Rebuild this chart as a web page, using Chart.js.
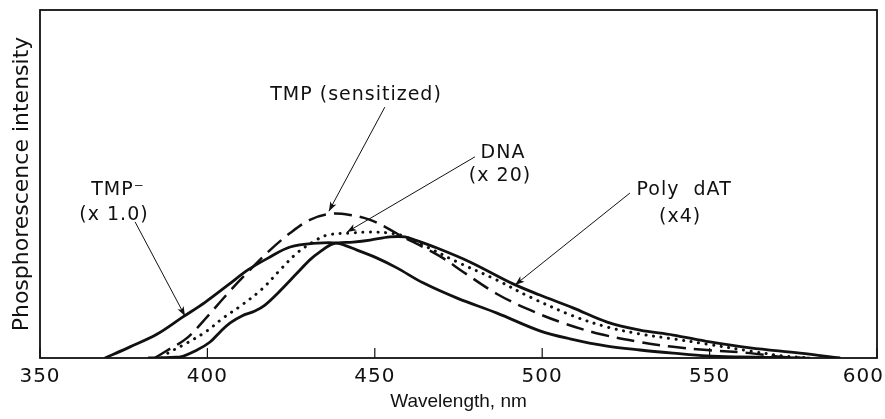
<!DOCTYPE html>
<html>
<head>
<meta charset="utf-8">
<script src="https://cdn.jsdelivr.net/npm/chart.js@4.4.0/dist/chart.umd.min.js"></script>
<style>
    html, body { margin: 0; padding: 0; background: #fff; }
    #wrap { width: 885px; height: 419px; }
</style>
</head>
<body>
<div id="wrap"><canvas id="chart" width="885" height="419"></canvas></div>
<script>
// Wavelength (nm) and phosphorescence intensity (arbitrary units, frame height = 100)
const tmpMinusNm = [369.4, 376.9, 384.9, 392.7, 399.3, 406.2, 412.1, 418.1, 424.7, 432.7, 438.7, 444.7, 450.7,
    456.6, 464.4, 474.6, 486.5, 499.3, 508.3, 519.4, 529.2, 539.1, 549.2, 559.1, 577.0];
const tmpMinusVal = [0, 3.2, 6.8, 11.8, 16.0, 21.0, 25.3, 28.7, 31.9, 33.0, 33.0, 31.0, 28.7,
    25.9, 21.6, 17.2, 12.9, 7.8, 5.5, 3.4, 2.3, 1.4, 0.6, 0.3, 0];

const tmpSensNm = [384.3, 388.2, 391.8, 394.8, 399.9, 406.2, 411.8, 418.7, 424.7, 430.6, 436.6, 442.6, 448.6, 453.6,
    458.4, 464.4, 470.4, 476.3, 486.5, 496.3, 506.1, 517.2, 529.2, 539.1, 549.2, 562.1, 571.9, 580.0];
const tmpSensVal = [0, 2.3, 4.3, 6.5, 11.8, 18.7, 24.4, 31.0, 35.9, 39.7, 41.4, 41.1, 39.7, 37.4,
    34.8, 31.9, 28.7, 24.8, 18.4, 13.8, 10.1, 6.9, 4.6, 3.2, 2.3, 1.4, 0.3, 0];

const dnaNm = [386.4, 388.2, 393.9, 399.9, 404.7, 409.7, 416.3, 421.7, 426.8, 431.5, 435.7, 442.6, 448.6, 454.5,
    458.4, 465.6, 474.6, 486.5, 496.4, 509.2, 519.4, 529.2, 539.1, 549.2, 562.1, 571.9, 580.0];
const dnaVal = [0, 1.4, 4.3, 7.8, 11.5, 14.8, 19.8, 25.3, 30.2, 33.3, 35.3, 35.9, 36.2, 35.9,
    35.1, 31.9, 27.6, 22.4, 17.5, 12.1, 8.9, 6.9, 5.5, 4.0, 2.0, 0.6, 0];

const polyNm = [382.3, 391.8, 396.9, 400.8, 403.8, 406.8, 410.3, 414.2, 417.2, 420.8, 426.8, 430.6, 433.6, 437.5,
    443.5, 448.6, 454.5, 459.0, 462.0, 468.6, 478.4, 491.3, 499.3, 509.2, 519.4, 529.2, 539.1, 550.1, 562.1, 577.0, 589.0];
const polyVal = [0, 0.3, 2.3, 4.6, 7.5, 10.1, 12.1, 13.5, 15.2, 18.4, 24.4, 28.2, 30.5, 32.8,
    33.3, 33.9, 34.8, 34.8, 33.9, 31.6, 27.6, 21.3, 18.1, 14.4, 10.3, 8.0, 6.6, 4.6, 2.9, 1.4, 0];

const xTicks = [350, 400, 450, 500, 550, 600];

// labels and arrows, placed in data coordinates
const labels = [
    { text: 'TMP (sensitized)', nm: 444.4, val: 75.6 },
    { text: 'DNA', nm: 488.3, val: 58.9 },
    { text: '(x 20)', nm: 487.4, val: 52.3 },
    { text: 'TMP\u207B', nm: 373.3, val: 48.3 },
    { text: '(x 1.0)', nm: 372.1, val: 41.1 },
    { text: 'Poly  dAT', nm: 542.4, val: 48.3 },
    { text: '(x4)', nm: 541.2, val: 40.5 }
];
const arrows = [
    { from: [378.4, 39.1], to: [393.3, 12.1] },
    { from: [453.0, 72.1], to: [436.3, 42.2] },
    { from: [479.9, 57.8], to: [441.7, 36.2] },
    { from: [526.2, 47.4], to: [491.9, 21.0] }
];

const ink = '#111';

function toPoints(xs, ys) {
    return xs.map((x, i) => ({ x: x, y: ys[i] }));
}

function makeSeries(label, xs, ys, extra) {
    return Object.assign({
        label: label,
        data: toPoints(xs, ys),
        borderColor: ink,
        borderWidth: 2.8,
        pointRadius: 0,
        fill: false,
        tension: 0.35
    }, extra || {});
}

// Frame, inward ticks, tick labels, annotation text and arrows
const decorPlugin = {
    id: 'decor',
    afterDraw(chart) {
        const ctx = chart.ctx;
        const area = chart.chartArea;
        const xs = chart.scales.x;
        const ys = chart.scales.y;

        ctx.save();
        ctx.strokeStyle = ink;
        ctx.lineWidth = 1.8;
        ctx.strokeRect(area.left, area.top, area.right - area.left, area.bottom - area.top);

        // tick marks pointing into the plot
        ctx.lineWidth = 1.2;
        xTicks.forEach(v => {
            const px = xs.getPixelForValue(v);
            ctx.beginPath();
            ctx.moveTo(px, area.bottom);
            ctx.lineTo(px, area.bottom - 10);
            ctx.stroke();
        });

        ctx.fillStyle = ink;
        ctx.letterSpacing = '1px';
        ctx.font = '20px "DejaVu Sans"';
        ctx.textBaseline = 'top';
        ctx.textAlign = 'center';
        xTicks.forEach(v => {
            let px = xs.getPixelForValue(v);
            const w = ctx.measureText(String(v)).width;
            if (px + w / 2 > chart.width - 1) px = chart.width - 1 - w / 2;
            ctx.fillText(String(v), px, area.bottom + 9);
        });

        ctx.font = '19px "DejaVu Sans"';
        ctx.textBaseline = 'middle';
        labels.forEach(l => {
            ctx.fillText(l.text, xs.getPixelForValue(l.nm), ys.getPixelForValue(l.val));
        });

        ctx.lineWidth = 1;
        arrows.forEach(a => {
            const x0 = xs.getPixelForValue(a.from[0]), y0 = ys.getPixelForValue(a.from[1]);
            const x1 = xs.getPixelForValue(a.to[0]), y1 = ys.getPixelForValue(a.to[1]);
            ctx.beginPath();
            ctx.moveTo(x0, y0);
            ctx.lineTo(x1, y1);
            ctx.stroke();
            const ang = Math.atan2(y1 - y0, x1 - x0);
            const len = 10, spread = 0.35;
            ctx.beginPath();
            ctx.moveTo(x1, y1);
            ctx.lineTo(x1 - len * Math.cos(ang - spread), y1 - len * Math.sin(ang - spread));
            ctx.lineTo(x1 - len * 0.7 * Math.cos(ang), y1 - len * 0.7 * Math.sin(ang));
            ctx.lineTo(x1 - len * Math.cos(ang + spread), y1 - len * Math.sin(ang + spread));
            ctx.closePath();
            ctx.fill();
        });
        ctx.restore();
    }
};

const ctx = document.getElementById('chart').getContext('2d');
const chart = new Chart(ctx, {
    type: 'line',
    data: {
        datasets: [
            makeSeries('TMP- (x 1.0)', tmpMinusNm, tmpMinusVal),
            makeSeries('TMP (sensitized)', tmpSensNm, tmpSensVal, { borderDash: [18, 8], borderWidth: 2.5 }),
            makeSeries('DNA (x 20)', dnaNm, dnaVal, { borderDash: [0.1, 7.5], borderCapStyle: 'round', borderWidth: 3 }),
            makeSeries('Poly dAT (x4)', polyNm, polyVal)
        ]
    },
    options: {
        responsive: false,
        animation: false,
        devicePixelRatio: 1,
        layout: { padding: { top: 10, right: 8, left: 0, bottom: 0 } },
        plugins: {
            legend: { display: false },
            tooltip: { enabled: false }
        },
        scales: {
            x: {
                type: 'linear',
                min: 350,
                max: 600,
                grid: { display: false },
                border: { display: false },
                ticks: { display: false, stepSize: 50 },
                title: {
                    display: true,
                    text: 'Wavelength, nm',
                    color: ink,
                    font: { family: 'Liberation Sans', size: 19 },
                    padding: 6
                },
                afterFit(scale) {
                    scale.height = 61;
                    scale.paddingLeft = 0;
                    scale.paddingRight = 0;
                }
            },
            y: {
                min: 0,
                max: 100,
                grid: { display: false },
                border: { display: false },
                ticks: { display: false },
                title: {
                    display: true,
                    text: 'Phosphorescence intensity',
                    color: ink,
                    font: { family: 'DejaVu Sans', size: 22 },
                    padding: 9
                },
                afterFit(scale) {
                    scale.width = 40;
                    scale.paddingTop = 0;
                    scale.paddingBottom = 0;
                }
            }
        }
    },
    plugins: [decorPlugin]
});
</script>
</body>
</html>
